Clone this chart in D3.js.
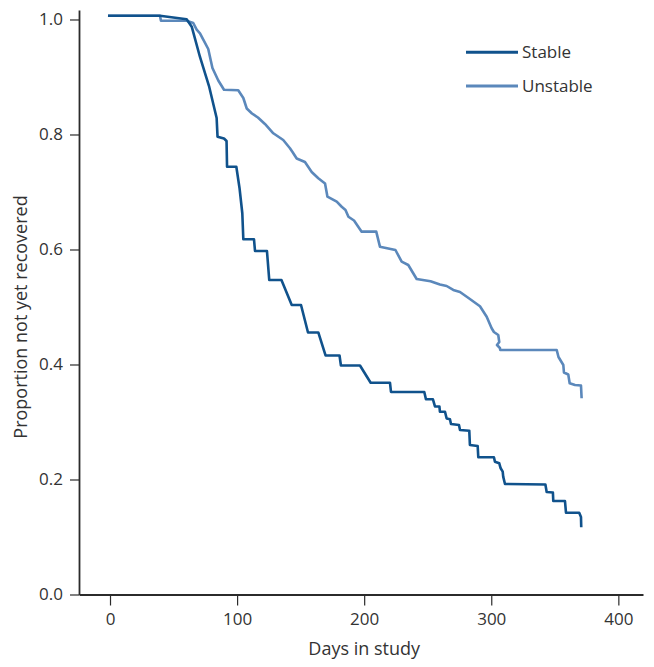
<!DOCTYPE html>
<html>
<head>
<meta charset="utf-8">
<script src="https://cdn.jsdelivr.net/npm/d3@7"></script>
<style>
  html, body { margin: 0; padding: 0; background: #fff; }
  svg { display: block; }
  text { font-family: "Open Sans", "Noto Sans", sans-serif; fill: #333; }
</style>
</head>
<body>
<svg id="chart" width="654" height="667"></svg>
<script>
// ---- Data ----
const seriesNames = ["Stable", "Unstable"];

const stableDays = [-1.6, 39.3, 60.3, 64.3, 70.8, 77.9, 83.9, 84.6, 89.7, 91.7, 92.1, 99.4, 101.9, 104.1, 104.9,
  113.3, 114.1, 123.5, 125.3, 134.9, 143.0, 150.3, 155.8, 163.9, 169.6, 180.6, 181.7, 196.7, 205.1, 220.3,
  221.1, 247.3, 248.6, 254.1, 255.7, 259.2, 259.6, 263.6, 264.9, 267.5, 268.3, 274.6, 275.4, 282.7, 283.2,
  289.3, 289.8, 302.1, 302.9, 306.3, 307.4, 309.0, 309.4, 310.8, 342.6, 343.6, 348.5, 348.8, 358.0, 358.8,
  369.2, 370.6, 370.8];
const stableValues = [1.0066, 1.0066, 1.0003, 0.9875, 0.9348, 0.8843, 0.8287, 0.7962, 0.7930, 0.7887, 0.7440,
  0.7440, 0.7070, 0.6630, 0.6177, 0.6177, 0.5974, 0.5974, 0.5470, 0.5470, 0.5035, 0.5035, 0.4557, 0.4557,
  0.4157, 0.4157, 0.3983, 0.3983, 0.3683, 0.3683, 0.3522, 0.3522, 0.3395, 0.3395, 0.3270, 0.3270, 0.3179,
  0.3179, 0.3061, 0.3047, 0.2965, 0.2948, 0.2861, 0.2849, 0.2600, 0.2583, 0.2386, 0.2386, 0.2310, 0.2282,
  0.2195, 0.2136, 0.2049, 0.1922, 0.1913, 0.1783, 0.1774, 0.1626, 0.1626, 0.1423, 0.1423, 0.1348, 0.1169];

const unstableDays = [-1.6, 39.3, 40.1, 49.6, 60.3, 65.5, 68.2, 70.8, 73.4, 77.3, 80.6, 85.2, 89.7, 100.9, 104.9,
  107.6, 111.7, 116.4, 121.9, 128.5, 136.3, 141.6, 143.6, 146.9, 153.4, 158.7, 163.9, 169.2, 171.1, 178.4,
  182.3, 185.3, 187.6, 192.0, 198.0, 209.5, 212.4, 224.6, 229.5, 234.7, 241.3, 252.2, 259.6, 264.9, 270.1,
  275.4, 282.1, 291.1, 296.4, 300.3, 302.1, 305.5, 306.3, 304.5, 306.8, 307.1, 351.5, 352.9, 356.7, 357.2,
  360.6, 361.7, 365.9, 370.6, 371.1];
const unstableValues = [1.0066, 1.0066, 0.9979, 0.9979, 0.9977, 0.9939, 0.9823, 0.9760, 0.9649, 0.9487, 0.9157,
  0.8939, 0.8779, 0.8769, 0.8635, 0.8452, 0.8365, 0.8296, 0.8183, 0.8021, 0.7904, 0.7760, 0.7696, 0.7583,
  0.7522, 0.7348, 0.7238, 0.7148, 0.6918, 0.6831, 0.6744, 0.6687, 0.6570, 0.6504, 0.6310, 0.6310, 0.6049,
  0.5991, 0.5788, 0.5730, 0.5487, 0.5447, 0.5391, 0.5365, 0.5296, 0.5261, 0.5157, 0.5012, 0.4831, 0.4630,
  0.4565, 0.4513, 0.4391, 0.4339, 0.4287, 0.4252, 0.4252, 0.4130, 0.3991, 0.3861, 0.3826, 0.3673, 0.3643,
  0.3635, 0.3412];

const xTicks = [0, 100, 200, 300, 400];
const yTicks = [0.0, 0.2, 0.4, 0.6, 0.8, 1.0];
const xTitle = "Days in study";
const yTitle = "Proportion not yet recovered";

// ---- Layout ----
const colors = { Stable: "#10528c", Unstable: "#5b88bb" };
const axisColor = "#2b2b2b";

const svg = d3.select("#chart");

const x = d3.scaleLinear().domain([-24.4, 419.4]).range([79, 643]);
const y = d3.scaleLinear().domain([0, 1.0165]).range([594.5, 10]);

// Axes
const xAxis = d3.axisBottom(x).tickValues(xTicks).tickFormat(d3.format("d"))
  .tickSize(11).tickSizeOuter(0).tickPadding(7);
const yAxis = d3.axisLeft(y).tickValues(yTicks).tickFormat(d3.format(".1f"))
  .tickSize(9).tickSizeOuter(0).tickPadding(7);

const gx = svg.append("g").attr("transform", "translate(0,594.5)").call(xAxis);
const gy = svg.append("g").attr("transform", "translate(79,0)").call(yAxis);

[gx, gy].forEach(g => {
  g.select(".domain").attr("stroke", axisColor).attr("stroke-width", 1.8);
  g.selectAll(".tick line").attr("stroke", axisColor).attr("stroke-width", 1.2);
  g.selectAll(".tick text").attr("fill", "#333").style("font-size", "17px")
    .style("font-family", "'Open Sans', 'Noto Sans', sans-serif");
});

// Axis titles
svg.append("text")
  .attr("x", x(200)).attr("y", 655)
  .attr("text-anchor", "middle")
  .style("font-size", "18px")
  .text(xTitle);

svg.append("text")
  .attr("transform", "translate(27,317) rotate(-90)")
  .attr("text-anchor", "middle")
  .style("font-size", "18px")
  .text(yTitle);

// Lines
const line = d3.line().x(d => x(d[0])).y(d => y(d[1]));
const series = [
  { name: "Unstable", pts: d3.zip(unstableDays, unstableValues) },
  { name: "Stable", pts: d3.zip(stableDays, stableValues) }
];
svg.append("g").selectAll("path")
  .data(series)
  .join("path")
  .attr("d", d => line(d.pts))
  .attr("fill", "none")
  .attr("stroke", d => colors[d.name])
  .attr("stroke-width", 2.6)
  .attr("stroke-linejoin", "round")
  .attr("stroke-linecap", "butt");

// Legend
const legend = svg.append("g");
const legendY = [52.3, 86];
seriesNames.forEach((name, i) => {
  legend.append("line")
    .attr("x1", 466).attr("x2", 518)
    .attr("y1", legendY[i]).attr("y2", legendY[i])
    .attr("stroke", colors[name]).attr("stroke-width", 3);
  legend.append("text")
    .attr("x", 522).attr("y", legendY[i])
    .attr("dy", "0.36em")
    .style("font-size", "17px")
    .text(name);
});
</script>
</body>
</html>
